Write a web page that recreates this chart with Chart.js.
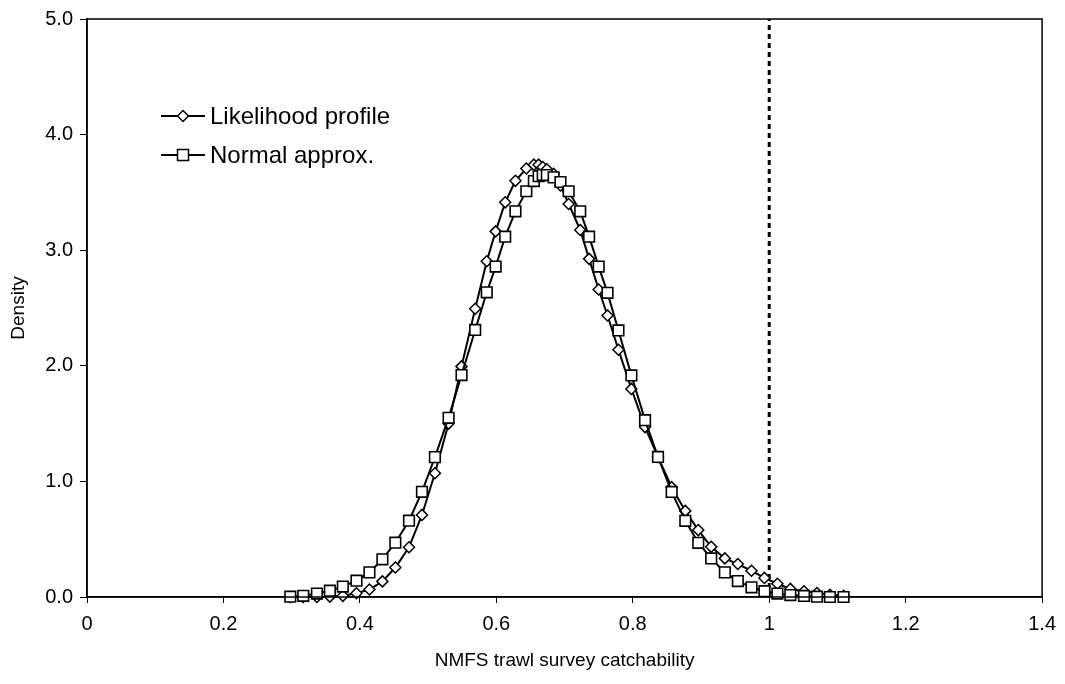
<!DOCTYPE html>
<html>
<head>
<meta charset="utf-8">
<script src="https://cdn.jsdelivr.net/npm/chart.js@4.4.1/dist/chart.umd.min.js"></script>
<style>
  html, body { margin: 0; padding: 0; background: #fff; }
</style>
</head>
<body>
<canvas id="myChart" width="1065" height="684"></canvas>
<script>
// values
const catchability = [0.298, 0.317, 0.337, 0.356, 0.375, 0.395, 0.414, 0.433, 0.452, 0.472,
  0.491, 0.510, 0.530, 0.549, 0.569, 0.586, 0.599, 0.613, 0.628, 0.644,
  0.655, 0.662, 0.668, 0.674, 0.684, 0.694, 0.706, 0.723, 0.736, 0.750,
  0.763, 0.779, 0.798, 0.818, 0.837, 0.857, 0.877, 0.896, 0.915, 0.935,
  0.954, 0.974, 0.993, 1.012, 1.031, 1.051, 1.070, 1.089, 1.109];
const profileDensity = [0.000, 0.000, 0.000, 0.003, 0.010, 0.032, 0.065, 0.135, 0.255, 0.430,
  0.710, 1.070, 1.500, 1.995, 2.493, 2.904, 3.163, 3.414, 3.600, 3.707,
  3.740, 3.740, 3.720, 3.700, 3.660, 3.560, 3.400, 3.175, 2.925, 2.660,
  2.435, 2.139, 1.800, 1.470, 1.210, 0.950, 0.745, 0.579, 0.434, 0.334,
  0.285, 0.227, 0.165, 0.115, 0.070, 0.050, 0.035, 0.020, 0.010];
const normalDensity = [0.003, 0.010, 0.030, 0.055, 0.090, 0.141, 0.213, 0.326, 0.470, 0.660,
  0.910, 1.210, 1.550, 1.920, 2.310, 2.636, 2.858, 3.117, 3.336, 3.510,
  3.598, 3.640, 3.650, 3.650, 3.630, 3.590, 3.510, 3.336, 3.117, 2.858,
  2.631, 2.306, 1.917, 1.530, 1.212, 0.909, 0.659, 0.469, 0.334, 0.213,
  0.138, 0.084, 0.050, 0.030, 0.017, 0.009, 0.003, 0.000, 0.000];
const refLineX = [1, 1];
const refLineY = [0, 5];
const seriesNames = ['Likelihood profile', 'Normal approx.'];

const FONT = "'Liberation Sans', Arial, sans-serif";

function toPoints(xs, ys) {
  return xs.map((x, i) => ({ x: x, y: ys[i] }));
}

// box around the plot area
const frame = {
  id: 'frame',
  afterDraw(chart) {
    const a = chart.chartArea, ctx = chart.ctx;
    ctx.save();
    ctx.strokeStyle = '#000';
    ctx.lineWidth = 1.5;
    ctx.strokeRect(a.left, a.top, a.right - a.left, a.bottom - a.top);
    ctx.restore();
  }
};

// legend sits inside the plot, upper left
const innerLegend = {
  id: 'innerLegend',
  afterDraw(chart) {
    const ctx = chart.ctx;
    const rows = [
      { y: 116, style: 'diamond' },
      { y: 155, style: 'square' }
    ];
    ctx.save();
    rows.forEach((row, i) => {
      ctx.strokeStyle = '#000';
      ctx.lineWidth = 2;
      ctx.beginPath();
      ctx.moveTo(161, row.y);
      ctx.lineTo(205, row.y);
      ctx.stroke();
      ctx.fillStyle = '#fff';
      ctx.lineWidth = 1.5;
      ctx.beginPath();
      if (row.style === 'diamond') {
        ctx.moveTo(183 - 5.5, row.y);
        ctx.lineTo(183, row.y - 5.5);
        ctx.lineTo(183 + 5.5, row.y);
        ctx.lineTo(183, row.y + 5.5);
        ctx.closePath();
      } else {
        ctx.rect(177.5, row.y - 5.5, 11, 11);
      }
      ctx.fill();
      ctx.stroke();
      ctx.fillStyle = '#000';
      ctx.font = '24px ' + FONT;
      ctx.textBaseline = 'middle';
      ctx.fillText(seriesNames[i], 210, row.y + 1);
    });
    ctx.restore();
  }
};

new Chart(document.getElementById('myChart'), {
  type: 'scatter',
  data: {
    datasets: [{
      label: seriesNames[1],
      data: toPoints(catchability, normalDensity),
      showLine: true,
      borderColor: '#000',
      borderWidth: 2,
      pointStyle: 'rect',
      pointRadius: 7.5,
      pointBackgroundColor: '#fff',
      pointBorderColor: '#000',
      pointBorderWidth: 1.6,
      clip: false
    }, {
      label: seriesNames[0],
      data: toPoints(catchability, profileDensity),
      showLine: true,
      borderColor: '#000',
      borderWidth: 2,
      pointStyle: 'rectRot',
      pointRadius: 5.5,
      pointBackgroundColor: '#fff',
      pointBorderColor: '#000',
      pointBorderWidth: 1.5,
      clip: false
    }, {
      label: 'q = 1',
      data: toPoints(refLineX, refLineY),
      showLine: true,
      borderColor: '#000',
      borderWidth: 3,
      borderDash: [5, 4],
      pointRadius: 0
    }]
  },
  options: {
    responsive: false,
    animation: false,
    devicePixelRatio: 1,
    layout: { padding: { left: 0, top: 18, right: 20, bottom: 0 } },
    plugins: {
      legend: { display: false },
      tooltip: { enabled: false }
    },
    scales: {
      x: {
        type: 'linear',
        min: 0,
        max: 1.4,
        afterFit: s => { s.height = 87; },
        ticks: {
          stepSize: 0.2,
          padding: 9,
          color: '#000',
          font: { family: FONT, size: 20 },
          callback: v => String(Math.round(v * 10) / 10)
        },
        grid: { drawOnChartArea: false, drawTicks: true, tickLength: 6, color: '#000', lineWidth: 1 },
        border: { display: true, color: '#000', width: 1.5 },
        title: {
          display: true,
          text: 'NMFS trawl survey catchability',
          color: '#000',
          font: { family: FONT, size: 19 },
          padding: { top: 0, bottom: 12 }
        }
      },
      y: {
        min: 0,
        max: 5,
        afterFit: s => { s.width = 87; },
        ticks: {
          stepSize: 1,
          padding: 7,
          color: '#000',
          font: { family: FONT, size: 20 },
          callback: v => v.toFixed(1)
        },
        grid: { drawOnChartArea: false, drawTicks: true, tickLength: 7, color: '#000', lineWidth: 1 },
        border: { display: true, color: '#000', width: 1.5 },
        title: {
          display: true,
          text: 'Density',
          color: '#000',
          font: { family: FONT, size: 19 },
          padding: { top: 7, bottom: 0 }
        }
      }
    }
  },
  plugins: [frame, innerLegend]
});
</script>
</body>
</html>
